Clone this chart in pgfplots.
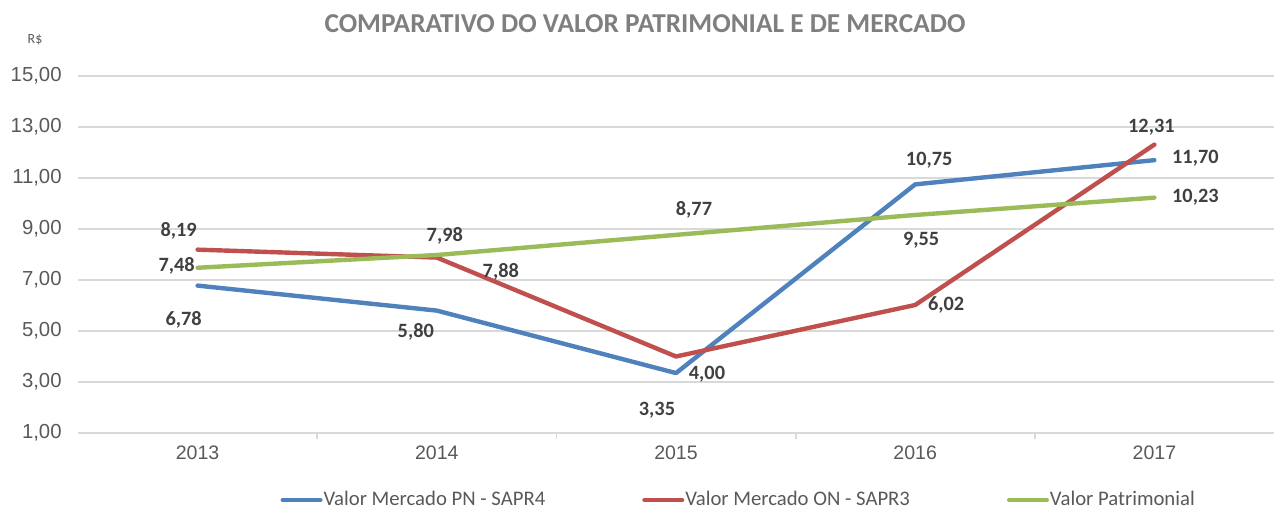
\documentclass[border=0pt]{standalone}
\usepackage{pgfplots}
\pgfplotsset{compat=1.18}
\usepackage{pgfplotstable}
\usepackage{fontspec}
\setmainfont{Carlito}
\newfontfamily\arialf{Liberation Sans}
\definecolor{cblue}{HTML}{4F81BD}
\definecolor{cred}{HTML}{C0504D}
\definecolor{cgreen}{HTML}{9BBB59}
\definecolor{gridc}{HTML}{D9D9D9}
\definecolor{tickc}{HTML}{595959}
\definecolor{titlec}{HTML}{7F7F7F}
\definecolor{labc}{HTML}{404040}

\pgfplotstableread{
x y lab dx dy
0 6.78 6,78 -7 -17
1 5.80 5,80 -10.5 -10.5
2 3.35 3,35 -9.5 -18.5
3 10.75 10,75 7 12
4 11.70 11,70 20.5 1
}\pn
\pgfplotstableread{
x y lab dx dy
0 8.19 8,19 -9.5 9.5
1 7.88 7,88 32 -7
2 4.00 4,00 15.5 -8.8
3 6.02 6,02 15.5 0
4 12.31 12,31 -1.5 8.8
}\on
\pgfplotstableread{
x y lab dx dy
0 7.48 7,48 -10.5 1
1 7.98 7,98 4 9.5
2 8.77 8,77 9 12.5
3 9.55 9,55 3 -12.5
4 10.23 10,23 20.5 0
}\vp

\pgfplotsset{lab/.style={no markers, point meta=explicit symbolic, nodes near coords,
  visualization depends on={\thisrow{dx}\as\dx},
  visualization depends on={\thisrow{dy}\as\dy},
  every node near coord/.append style={anchor=center, xshift=\dx*1bp, yshift=\dy*1bp,
     font=\bfseries\fontsize{10.2}{12}\selectfont, text=labc, inner sep=0pt}}}

\begin{document}
\begin{tikzpicture}
\useasboundingbox (0,0) rectangle (638.5bp,255.5bp);
\node[font=\bfseries\fontsize{13.7}{16}\selectfont, text=titlec] at (322.5bp,243.5bp) {COMPARATIVO DO VALOR PATRIMONIAL E DE MERCADO};
\node[font=\fontsize{7}{8}\selectfont, text=tickc] at (17.5bp,235.5bp) {R\$};
\begin{axis}[
  at={(39bp,39bp)}, anchor=south west, scale only axis,
  width=598bp, height=178.5bp,
  xmin=-0.5, xmax=4.5, ymin=1, ymax=15,
  xtick={0,...,4}, xticklabels={2013,2014,2015,2016,2017},
  ytick={1,3,...,15},
  axis line style={draw=none},
  ymajorgrids, grid style={gridc, line width=0.9bp},
  major tick length=0pt,
  xtick pos=bottom, ytick pos=left,
  extra x ticks={0.5,1.5,2.5,3.5}, extra x tick labels={},
  extra x tick style={grid=none, major tick length=3bp, tick align=outside, tick style={gridc, line width=0.9bp}},
  yticklabel style={font=\arialf\fontsize{10.2}{12}\selectfont, text=tickc, anchor=east, inner sep=0pt, xshift=-8bp,
     /pgf/number format/fixed, /pgf/number format/fixed zerofill, /pgf/number format/precision=2,
     /pgf/number format/use comma, /pgf/number format/assume math mode=true},
  xticklabel style={font=\arialf\fontsize{9.8}{11}\selectfont, text=tickc, anchor=north, inner sep=0pt, yshift=-6bp},
  clip=false,
  legend columns=3,
  legend style={at={(0.552,-0.188)}, anchor=center, draw=none, fill=none,
     font=\fontsize{10.4}{12}\selectfont, text=tickc, inner sep=0pt,
     /tikz/every even column/.append style={column sep=48bp}, nodes={inner sep=0.5bp}},
  legend image code/.code={\draw[line width=2bp] (0bp,0bp) -- (19bp,0bp);},
  every axis plot/.append style={line width=2.2bp, line cap=round, line join=round},
]
\addplot[cblue, lab] table[x=x, y=y, meta=lab] {\pn};
\addlegendentry{Valor Mercado PN - SAPR4}
\addplot[cred, lab] table[x=x, y=y, meta=lab] {\on};
\addlegendentry{Valor Mercado ON - SAPR3}
\addplot[cgreen, lab] table[x=x, y=y, meta=lab] {\vp};
\addlegendentry{Valor Patrimonial}
\end{axis}
\end{tikzpicture}
\end{document}
